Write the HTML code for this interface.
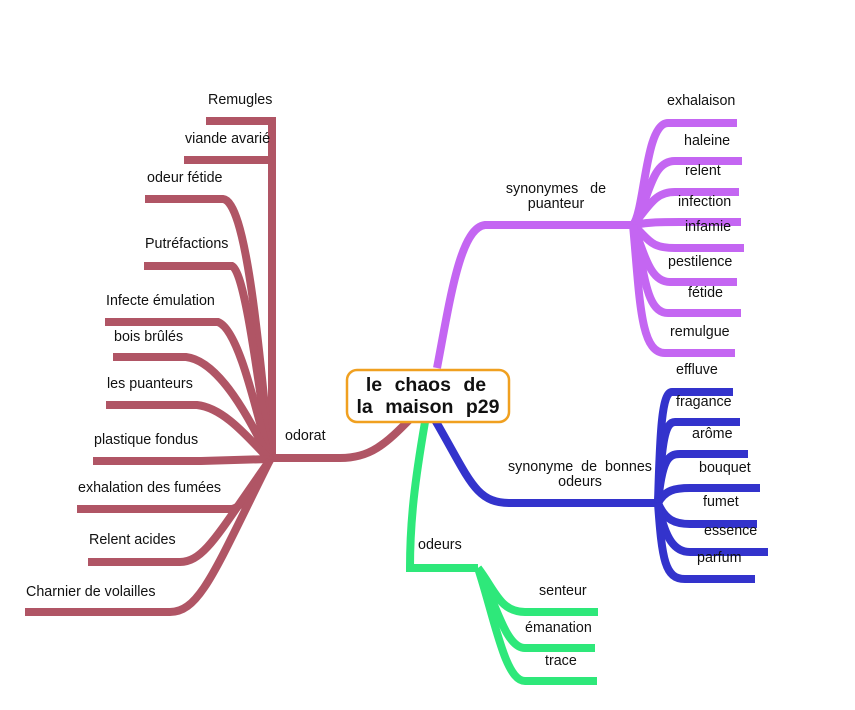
<!DOCTYPE html>
<html><head><meta charset="utf-8"><style>
html,body{margin:0;padding:0;background:#fff;}
svg{display:block;}
text{font-family:"Liberation Sans",sans-serif;font-size:14.3px;fill:#111;}
</style></head><body>
<svg width="855" height="710" viewBox="0 0 855 710" xmlns="http://www.w3.org/2000/svg">
<g fill="none" stroke="#b05565" stroke-width="8" stroke-linecap="butt">
<path d="M413,416 C385,445 370,458 340,458 L270,458"/>
<path d="M272,462 L272,121 L206,121"/>
<path d="M272,160 L184,160"/>
<path d="M145,199 L223,199 C245,201 258,330 270,460"/>
<path d="M144,266 L232,266 C245,272 258,380 270,460"/>
<path d="M105,322 L218,322 C240,330 258,420 270,460"/>
<path d="M113,357 L186,357 C220,361 250,420 270,460"/>
<path d="M106,405 L197,405 C225,408 250,440 270,460"/>
<path d="M93,461 L201,461 L270,459"/>
<path d="M77,509 L232,509 C248,505 260,475 270,460"/>
<path d="M88,562 L180,562 C205,562 220,530 270,460"/>
<path d="M25,612 L170,612 C200,612 215,570 270,460"/>
</g>
<g fill="none" stroke="#c466f2" stroke-width="8">
<path d="M437,368 C450,300 460,228 485,225 L633,225"/>
<path d="M633,225 C645,210 645,123 668,123 L737,123"/>
<path d="M633,225 C650,200 650,161 675,161 L742,161"/>
<path d="M633,225 C650,205 655,192 675,192 L739,192"/>
<path d="M633,225 C650,222 660,222 680,222 L741,222"/>
<path d="M633,225 C650,240 650,248 675,248 L744,248"/>
<path d="M633,225 C645,255 650,282 670,282 L737,282"/>
<path d="M633,225 C645,270 645,313 668,313 L741,313"/>
<path d="M633,225 C640,300 640,353 665,353 L735,353"/>
</g>
<g fill="none" stroke="#3333cc" stroke-width="8">
<path d="M435,420 C470,480 475,503 510,503 L658,503"/>
<path d="M658,503 C660,430 662,392 672,392 L733,392"/>
<path d="M658,503 C662,440 665,422 675,422 L740,422"/>
<path d="M658,503 C662,460 668,454 680,454 L748,454"/>
<path d="M658,503 C665,490 675,488 690,488 L760,488"/>
<path d="M658,503 C665,520 675,524 690,524 L757,524"/>
<path d="M658,503 C665,540 675,552 690,552 L768,552"/>
<path d="M658,503 C662,560 665,579 685,579 L755,579"/>
</g>
<g fill="none" stroke="#2ee87a" stroke-width="8">
<path d="M425,422 C415,480 410,520 410,568 L478,568"/>
<path d="M478,568 C495,590 500,612 525,612 L598,612"/>
<path d="M478,568 C495,600 505,648 525,648 L595,648"/>
<path d="M478,568 C495,620 505,681 525,681 L597,681"/>
</g>
<rect x="347" y="370" width="162" height="52" rx="10" fill="#fff" stroke="#f0a020" stroke-width="2.5"/>
<text x="426" y="391" text-anchor="middle" style="font-size:19.5px;font-weight:bold;word-spacing:7px">le chaos de</text>
<text x="428" y="413" text-anchor="middle" style="font-size:19.5px;font-weight:bold;word-spacing:7px">la maison p29</text>
<text x="208" y="104">Remugles</text>
<text x="185" y="143">viande avarié</text>
<text x="147" y="182">odeur fétide</text>
<text x="145" y="248">Putréfactions</text>
<text x="106" y="305">Infecte émulation</text>
<text x="114" y="341">bois brûlés</text>
<text x="107" y="388">les puanteurs</text>
<text x="94" y="444">plastique fondus</text>
<text x="78" y="492">exhalation des fumées</text>
<text x="89" y="544">Relent acides</text>
<text x="26" y="596">Charnier de volailles</text>
<text x="285" y="440">odorat</text>
<text x="556" y="193" text-anchor="middle" style="word-spacing:8px">synonymes de</text>
<text x="556" y="208" text-anchor="middle">puanteur</text>
<text x="667" y="105">exhalaison</text>
<text x="684" y="145">haleine</text>
<text x="685" y="175">relent</text>
<text x="678" y="206">infection</text>
<text x="685" y="231">infamie</text>
<text x="668" y="266">pestilence</text>
<text x="688" y="297">fétide</text>
<text x="670" y="336">remulgue</text>
<text x="580" y="471" text-anchor="middle" style="word-spacing:4px">synonyme de bonnes</text>
<text x="580" y="486" text-anchor="middle">odeurs</text>
<text x="676" y="374">effluve</text>
<text x="676" y="406">fragance</text>
<text x="692" y="438">arôme</text>
<text x="699" y="472">bouquet</text>
<text x="703" y="506">fumet</text>
<text x="704" y="535">essence</text>
<text x="697" y="562">parfum</text>
<text x="418" y="549">odeurs</text>
<text x="539" y="595">senteur</text>
<text x="525" y="632">émanation</text>
<text x="545" y="665">trace</text>
</svg>
</body></html>
